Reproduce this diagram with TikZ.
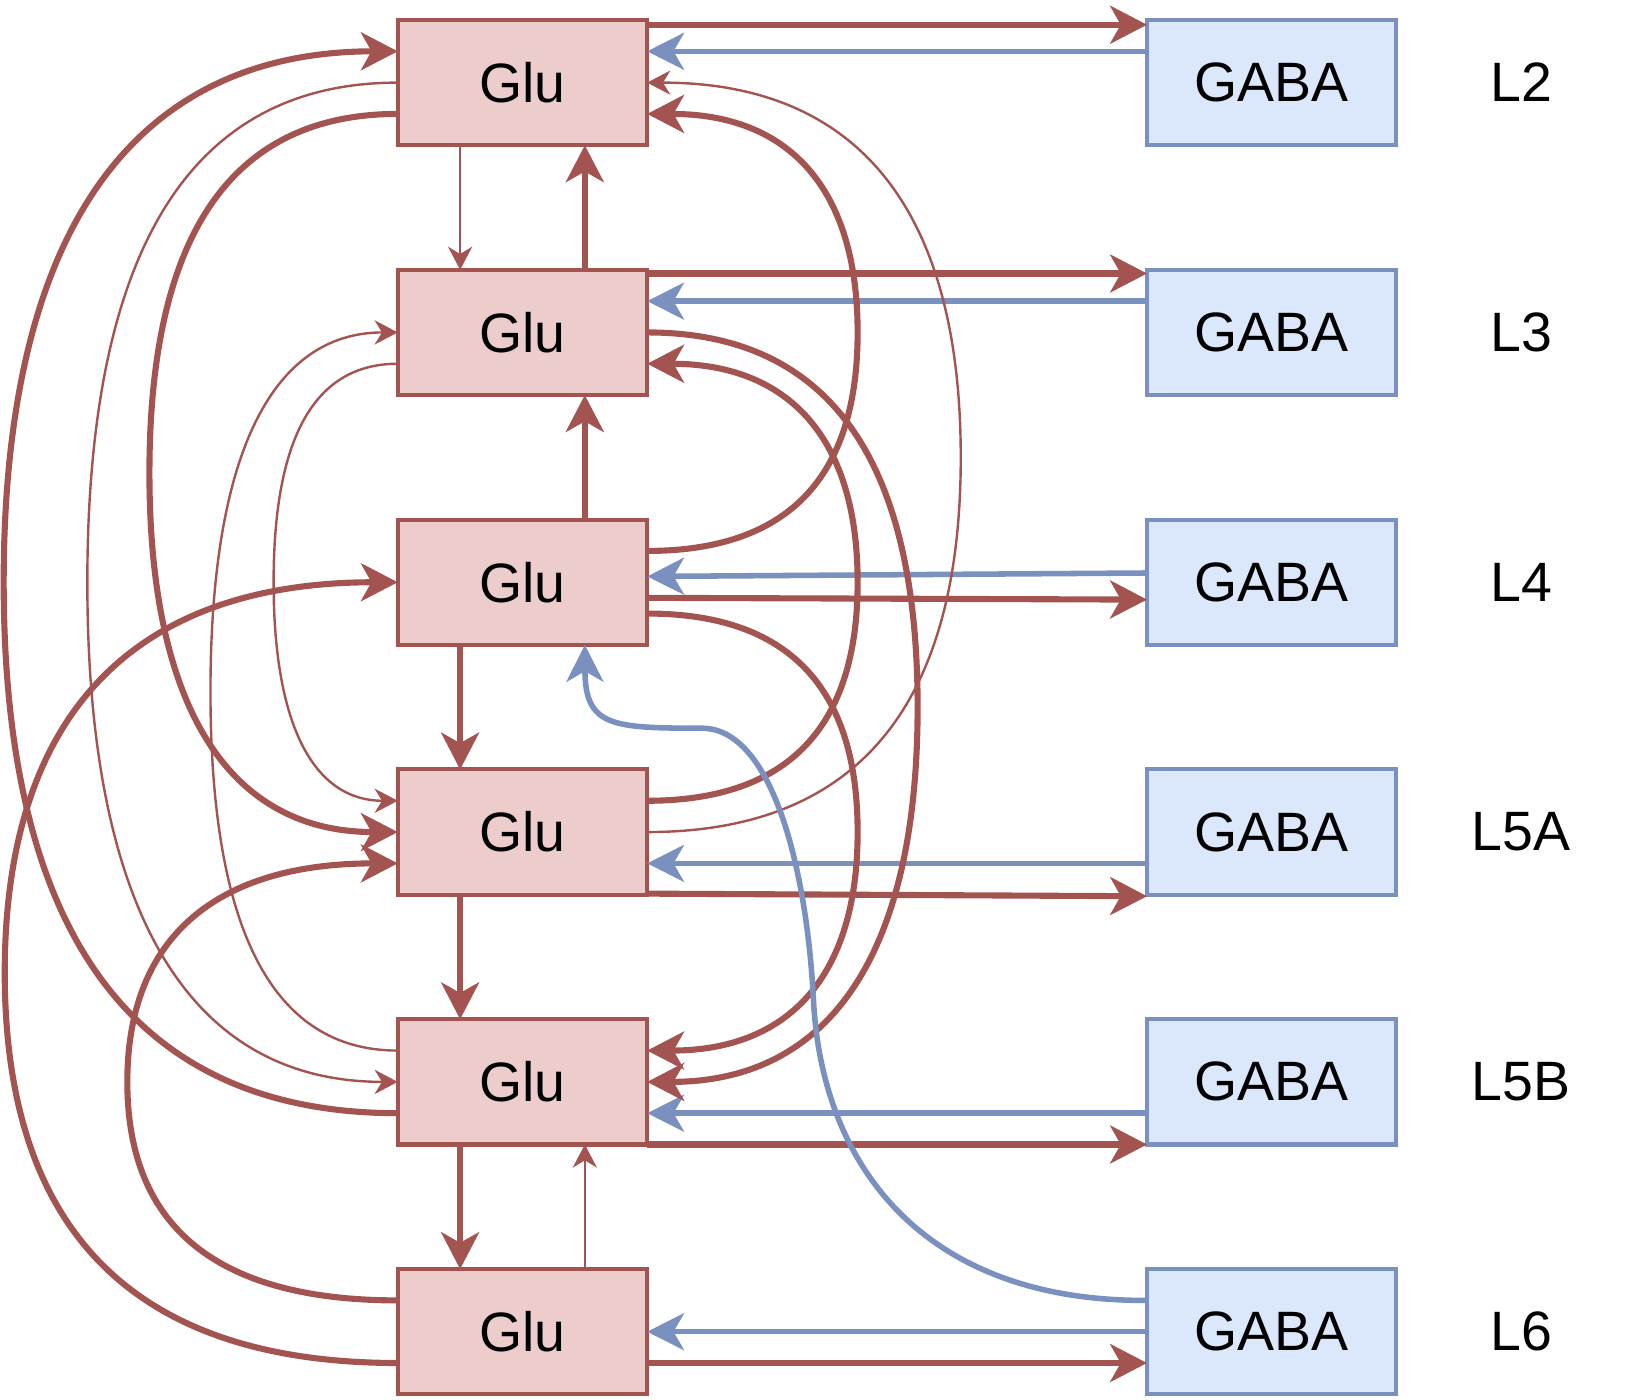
\documentclass[tikz,border=0pt]{standalone}
\usepackage{fontspec}
\setmainfont{Liberation Sans}
\usetikzlibrary{arrows.meta,positioning,calc}
\definecolor{glured}{HTML}{A35451}
\definecolor{glufill}{HTML}{ECCDCC}
\definecolor{gabablue}{HTML}{7A90BF}
\definecolor{gabafill}{HTML}{DBE7FB}
\tikzset{
  exc/.style={glured,line width=1.65pt,-{Stealth[length=3.5mm,width=3.6mm,inset=1mm]}},
  excthin/.style={glured,line width=0.65pt,-{Stealth[length=2.2mm,width=2.3mm,inset=0.7mm]}},
  inh/.style={gabablue,line width=1.5pt,-{Stealth[length=3.5mm,width=3.5mm,inset=1mm]}},
  cell/.style={rectangle,minimum width=23.7mm,minimum height=11.9mm,inner sep=0pt,
    outer sep=0pt,line width=1.1pt,font=\fontsize{15pt}{18pt}\selectfont},
  glubox/.style={cell,draw=glured,fill=glufill},
  gababox/.style={cell,draw=gabablue,fill=gabafill},
  lyr/.style={font=\fontsize{15pt}{18pt}\selectfont},
  qc/.style={to path={let \p1=(\tikztostart), \p2=(\tikztotarget), \p3=(#1,0) in
    .. controls ({\x1+2/3*(\x3-\x1)},\y1) and (\x3,{\y1+(\y2-\y1)/6})
    .. (\x3,{(\y1+\y2)/2})
    .. controls (\x3,{\y2-(\y2-\y1)/6}) and ({\x2+2/3*(\x3-\x2)},\y2)
    .. (\tikztotarget)}},
}
\begin{document}
\begin{tikzpicture}[node distance=11.84mm and 47.5mm]
\useasboundingbox (0,0) rectangle (156.8mm,-133mm);

\node[glubox] (glu2) at (49.65mm,-7.85mm) {Glu};
\node[glubox,below=of glu2] (glu3) {Glu};
\node[glubox,below=of glu3] (glu4) {Glu};
\node[glubox,below=of glu4] (glu5a) {Glu};
\node[glubox,below=of glu5a] (glu5b) {Glu};
\node[glubox,below=of glu5b] (glu6) {Glu};

\node[gababox,right=of glu2] (gaba2) {GABA};
\node[gababox,right=of glu3] (gaba3) {GABA};
\node[gababox,right=of glu4] (gaba4) {GABA};
\node[gababox,right=of glu5a] (gaba5a) {GABA};
\node[gababox,right=of glu5b] (gaba5b) {GABA};
\node[gababox,right=of glu6] (gaba6) {GABA};

\coordinate (lblx) at (144.55mm,0);
\foreach \l/\n in {L2/2,L3/3,L4/4,L5A/5a,L5B/5b,L6/6}
  \node[lyr] (lab\n) at (gaba\n -| lblx) {\l};

% ports at quarters of each side
\foreach \n in {glu2,glu3,glu4,glu5a,glu5b,glu6,gaba2,gaba3,gaba4,gaba5a,gaba5b,gaba6}
  \foreach \k/\f in {1/0.25,2/0.5,3/0.75}{
    \coordinate (\n-l\k) at ($(\n.north west)!\f!(\n.south west)$);
    \coordinate (\n-r\k) at ($(\n.north east)!\f!(\n.south east)$);
    \coordinate (\n-t\k) at ($(\n.north west)!\f!(\n.north east)$);
    \coordinate (\n-b\k) at ($(\n.south west)!\f!(\n.south east)$);
  }

\draw[excthin] (glu2-b1) -- (glu3-t1);
\draw[exc] (glu3-t3) -- (glu2-b3);
\draw[exc] (glu4-t3) -- (glu3-b3);
\draw[exc] (glu4-b1) -- (glu5a-t1);
\draw[exc] (glu5a-b1) -- (glu5b-t1);
\draw[exc] (glu5b-b1) -- (glu6-t1);
\draw[excthin] (glu6-t3) -- (glu5b-b3);

\draw[exc] ([yshift=-0.45mm]glu2.north east) -- ([yshift=-0.45mm]gaba2.north west);
\draw[inh] (gaba2-l1) -- (glu2-r1);
\draw[exc] ([yshift=-0.35mm]glu3.north east) -- ([yshift=-0.35mm]gaba3.north west);
\draw[inh] (gaba3-l1) -- (glu3-r1);
\draw[inh] ([yshift=0.88mm]gaba4.west) -- ([yshift=0.55mm]glu4.east);
\draw[exc] ([yshift=-1.48mm]glu4.east) -- ([yshift=-1.65mm]gaba4.west);
\draw[inh] (gaba5a-l3) -- (glu5a-r3);
\draw[exc] ([yshift=0.1mm]glu5a.south east) -- ([yshift=-0.15mm]gaba5a.south west);
\draw[inh] (gaba5b-l3) -- (glu5b-r3);
\draw[exc] (glu5b.south east) -- (gaba5b.south west);
\draw[inh] (gaba6-l2) -- (glu6-r2);
\draw[exc] (glu6-r3) -- (gaba6-l3);

% long loops, left side
\draw[exc] (glu5b-l3) to[qc=0.35mm] (glu2-l1);
\draw[excthin] (glu2-l2) to[qc=8.3mm] (glu5b-l2);
\draw[exc] (glu2-l3) to[qc=14.2mm] (glu5a-l2);
\draw[excthin] (glu5b-l1) to[qc=20mm] (glu3-l2);
\draw[excthin] (glu3-l3) to[qc=26mm] (glu5a-l1);
\draw[exc] (glu6-l3) to[qc=0.45mm] (glu4-l2);
\draw[exc] (glu6-l1) to[qc=12.1mm] (glu5a-l3);

% long loops, right side
\draw[exc] (glu4-r1) to[qc=81.5mm] (glu2-r3);
\draw[excthin] (glu5a-r2) to[qc=91.3mm] (glu2-r2);
\draw[exc] (glu3-r2) to[qc=87.2mm] (glu5b-r2);
\draw[exc] (glu5a-r1) to[qc=81.5mm] (glu3-r3);
\draw[exc] (glu4-r3) to[qc=81.5mm] (glu5b-r1);

\draw[inh] (gaba6-l1) .. controls (88mm,-123.7mm) and (78.1mm,-111mm) .. (77.3mm,-95mm)
  .. controls (76.7mm,-83mm) and (73.5mm,-69.2mm) .. (66.7mm,-69.2mm)
  .. controls (58mm,-69.2mm) and (55.6mm,-69mm) .. (glu4-b3);
\end{tikzpicture}
\end{document}
